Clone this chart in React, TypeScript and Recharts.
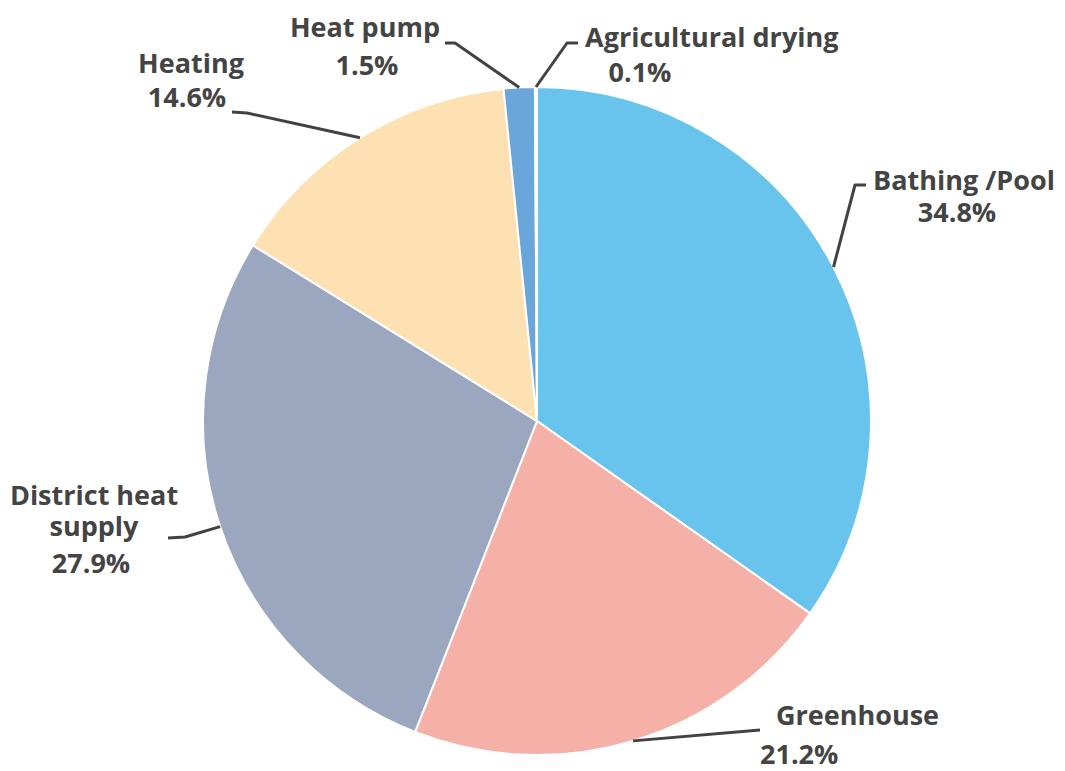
import { Cell, Pie, PieChart } from 'recharts';

const categories = ['Bathing /Pool', 'Greenhouse', 'District heat supply', 'Heating', 'Heat pump', 'Agricultural drying'];
const shares = [34.8, 21.2, 27.9, 14.6, 1.5, 0.1];
const colors = ['#68C4EC', '#F5B1A7', '#9BA6BF', '#FDE1B2', '#6AA6DA', '#E6ECF3'];

const data = categories.map((name, i) => ({ name, value: shares[i] }));

// label layout, offsets from the pie centre
const labelLayout: Record<string, { line: number[][]; text: { t: string; x: number; y: number; anchor: string }[] }> = {
  'Bathing /Pool': {
    line: [[318, -236], [329, -236]],
    text: [
      { t: 'Bathing /Pool', x: 336, y: -231, anchor: 'start' },
      { t: '%', x: 420, y: -199, anchor: 'middle' },
    ],
  },
  Greenhouse: {
    line: [[223, 309]],
    text: [
      { t: 'Greenhouse', x: 239, y: 304, anchor: 'start' },
      { t: '%', x: 223, y: 343, anchor: 'start' },
    ],
  },
  'District heat supply': {
    line: [[-352, 116], [-369, 117]],
    text: [
      { t: 'District heat', x: -443, y: 84, anchor: 'middle' },
      { t: 'supply', x: -443, y: 115, anchor: 'middle' },
      { t: '%', x: -446, y: 152, anchor: 'middle' },
    ],
  },
  Heating: {
    line: [[-290, -308], [-305, -309]],
    text: [
      { t: 'Heating', x: -346, y: -348, anchor: 'middle' },
      { t: '%', x: -350, y: -314, anchor: 'middle' },
    ],
  },
  'Heat pump': {
    line: [[-82, -378], [-92, -378]],
    text: [
      { t: 'Heat pump', x: -172, y: -384, anchor: 'middle' },
      { t: '%', x: -170, y: -346, anchor: 'middle' },
    ],
  },
  'Agricultural drying': {
    line: [[30, -378], [41, -378]],
    text: [
      { t: 'Agricultural drying', x: 48, y: -374, anchor: 'start' },
      { t: '%', x: 103, y: -339, anchor: 'middle' },
    ],
  },
};

const RAD = Math.PI / 180;

const renderLabel = (props: any) => {
  const { cx, cy, midAngle, outerRadius, name, value } = props;
  const cfg = labelLayout[name];
  if (!cfg) return null;
  const sx = cx + outerRadius * Math.cos(midAngle * RAD);
  const sy = cy - outerRadius * Math.sin(midAngle * RAD);
  const pts = [[sx, sy], ...cfg.line.map(([dx, dy]) => [cx + dx, cy + dy])];
  return (
    <g>
      <polyline
        points={pts.map((p) => p.join(',')).join(' ')}
        fill="none"
        stroke="#424242"
        strokeWidth={3}
        strokeLinejoin="round"
      />
      {cfg.text.map((l, i) => (
        <text
          key={i}
          x={cx + l.x}
          y={cy + l.y}
          textAnchor={l.anchor}
          fill="#444444"
          fontFamily="'Open Sans', sans-serif"
          fontWeight={700}
          fontSize={27}
        >
          {l.t === '%' ? `${value}%` : l.t}
        </text>
      ))}
    </g>
  );
};

export default function App() {
  return (
    <div style={{ width: 1049, height: 763, background: '#fff' }}>
      <PieChart width={1049} height={763} margin={{ top: 0, right: 0, bottom: 0, left: 0 }}>
        <Pie
          data={data}
          dataKey="value"
          nameKey="name"
          cx={529}
          cy={413}
          outerRadius={334}
          startAngle={90}
          endAngle={-270}
          stroke="#ffffff"
          strokeWidth={2}
          label={renderLabel}
          labelLine={false}
          isAnimationActive={false}
        >
          {data.map((d, i) => (
            <Cell key={d.name} fill={colors[i]} />
          ))}
        </Pie>
      </PieChart>
    </div>
  );
}
